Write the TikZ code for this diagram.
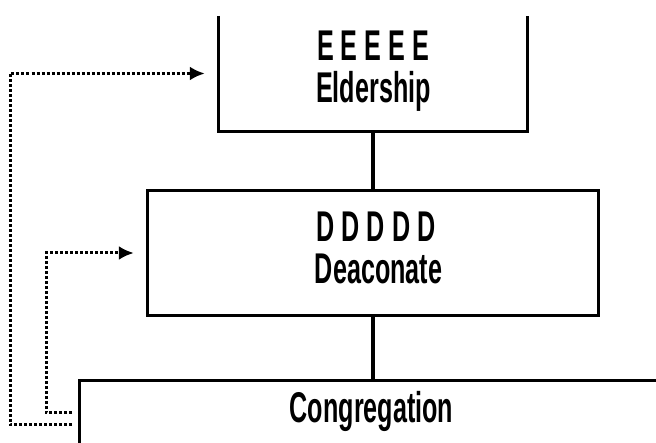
\documentclass[tikz,border=0pt]{standalone}
\usepackage{fontspec}
\newfontfamily\orgfont{Liberation Sans}
\usetikzlibrary{arrows.meta,positioning}
\newcommand\narrowtext[1]{\scalebox{0.585}[1]{#1}}
\tikzset{%
	office/.style = {rectangle, inner sep=0pt},
	title/.style  = {anchor=base, inner sep=0pt, font=\orgfont\bfseries\fontsize{43}{43}\selectfont},
	frame/.style  = {line width=3.2pt},
	link/.style   = {line width=3.2pt},
	vote/.style   = {line width=3pt, dash pattern=on 3pt off 2pt, -{Latex[length=15pt,width=14pt]}},
}
\begin{document}
\begin{tikzpicture}[x=1pt,y=-1pt]
	\useasboundingbox (0,0) rectangle (656,443);
	\node[office, minimum width=308pt, minimum height=115pt] (eldbox) at (373,73.5) {};
	\node[office, minimum width=450pt, minimum height=124pt] (deabox) at (373,253) {};
	\node[office, minimum width=576pt, minimum height=62pt] (congbox) at (368,412) {};
	
	\node[title] (eldmark) at (373,61) {\narrowtext{E E E E E}};
	\node[title] (eld) at (373.5,103) {\narrowtext{Eldership}};
	\node[title] (deamark) at (376,242) {\narrowtext{D D D D D}};
	\node[title] (dea) at (378.5,284) {\narrowtext{Deaconate}};
	\node[title] (cong) at (371.5,423) {\narrowtext{Congregation}};
	\coordinate (outer) at (72,425);
	\coordinate (inner) at (72,413);
	
	% boxes (top and right parts fall outside the picture)
	\draw[frame] (eldbox.north west) -- (eldbox.south west) -- (eldbox.south east) -- (eldbox.north east);
	\draw[frame] (deabox.north west) rectangle (deabox.south east);
	\draw[frame] (congbox.north east) -- (congbox.north west) -- (congbox.south west);
	
	\draw[link] (eldbox.south) -- (deabox.north);
	\draw[link] (deabox.south) -- (deabox.south |- congbox.north);
	
	\draw[vote, shorten >=14pt] (outer) -- ++(-62,0) |- (eldbox.west);
	\draw[vote, shorten >=14pt] (inner) -- ++(-26,0) |- (deabox.west);
\end{tikzpicture}
\end{document}
